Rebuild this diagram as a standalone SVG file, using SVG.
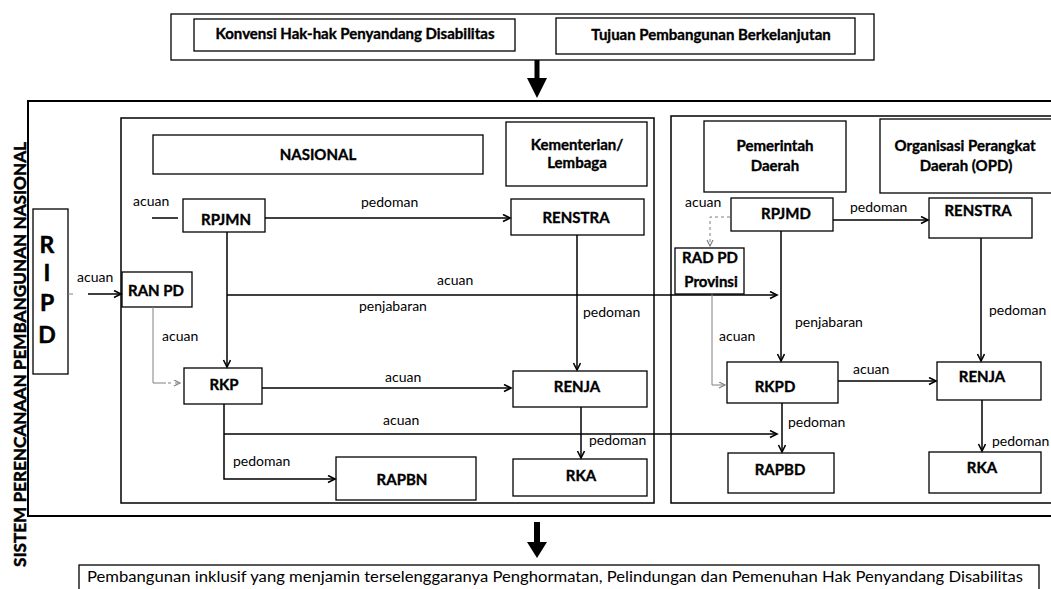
<svg xmlns="http://www.w3.org/2000/svg" width="1051" height="589" viewBox="0 0 1051 589">
<style>
.bx{fill:#fff;stroke:#000;stroke-width:1.3}
.fr{fill:none;stroke:#000;stroke-width:1.5}
.t{font-family:Lato,"Liberation Sans",sans-serif;fill:#000}
.n{font-weight:bold;font-size:15px;text-anchor:middle;stroke:#000;stroke-width:0.35}
.b{font-weight:bold;stroke:#000;stroke-width:0.5}
.l{font-size:14px}
.c{fill:none;stroke:#000;stroke-width:1.5}
.g{fill:none;stroke:#808080;stroke-width:1}
</style>
<defs>
<marker id="ah" markerUnits="userSpaceOnUse" markerWidth="10" markerHeight="10" refX="8" refY="4" orient="auto">
<path d="M1,0.5 L8,4 L1,7.5" fill="none" stroke="#000" stroke-width="1.6"/>
</marker>
<marker id="ahg" markerUnits="userSpaceOnUse" markerWidth="10" markerHeight="10" refX="7" refY="3.5" orient="auto">
<path d="M1,0.5 L7,3.5 L1,6.5" fill="none" stroke="#808080" stroke-width="1.2"/>
</marker>
</defs>

<!-- frames -->
<g id="frames">
<rect x="28" y="101" width="1040" height="415" fill="none" stroke="#000" stroke-width="2"/>
<rect class="fr" x="121" y="118" width="533" height="385"/>
<rect class="fr" x="671" y="116" width="400" height="387"/>
</g>

<g id="sistem-label">
<text class="t b" font-size="17" text-anchor="middle" transform="translate(26,354.5) rotate(-90)" textLength="425" lengthAdjust="spacingAndGlyphs">SISTEM PERENCANAAN PEMBANGUNAN NASIONAL</text>
</g>

<g id="top-sources">
<rect class="bx" x="171" y="14" width="703" height="46"/>
<g id="konvensi"><rect class="bx" x="194" y="19" width="321" height="32"/>
<text class="t n" x="355" y="39">Konvensi Hak-hak Penyandang Disabilitas</text></g>
<g id="tujuan"><rect class="bx" x="556" y="18" width="299" height="36"/>
<text class="t n" x="711" y="40">Tujuan Pembangunan Berkelanjutan</text></g>
</g>

<g id="ripd"><rect class="bx" x="33" y="209" width="35" height="165"/>
<text class="t b" font-size="23" text-anchor="middle" x="47" y="253">R</text>
<text class="t b" font-size="23" text-anchor="middle" x="47" y="281">I</text>
<text class="t b" font-size="23" text-anchor="middle" x="47" y="311">P</text>
<text class="t b" font-size="23" text-anchor="middle" x="47" y="343">D</text></g>

<g id="nasional"><rect class="bx" x="153" y="135" width="330" height="39"/>
<text class="t n" x="318" y="160">NASIONAL</text></g>
<g id="kl"><rect class="bx" x="506" y="122" width="141" height="64"/>
<text class="t n" x="577" y="150">Kementerian/</text><text class="t n" x="577" y="168">Lembaga</text></g>

<g id="rpjmn"><rect class="bx" x="183" y="199" width="82" height="33"/><text class="t n" x="226" y="225">RPJMN</text></g>
<g id="renstra-kl"><rect class="bx" x="511" y="199" width="133" height="36"/><text class="t n" x="576" y="223">RENSTRA</text></g>
<g id="ranpd"><rect class="bx" x="122" y="272" width="70" height="35"/><text class="t n" x="156" y="296">RAN PD</text></g>
<g id="rkp"><rect class="bx" x="184" y="368" width="78" height="36"/><text class="t n" x="224" y="390">RKP</text></g>
<g id="renja-kl"><rect class="bx" x="513" y="371" width="134" height="36"/><text class="t n" x="577" y="392">RENJA</text></g>
<g id="rapbn"><rect class="bx" x="336" y="457" width="140" height="43"/><text class="t n" x="402" y="485">RAPBN</text></g>
<g id="rka-kl"><rect class="bx" x="513" y="459" width="134" height="37"/><text class="t n" x="581" y="481">RKA</text></g>

<g id="pemda"><rect class="bx" x="704" y="121" width="142" height="71"/>
<text class="t n" x="775" y="151">Pemerintah</text><text class="t n" x="775" y="171">Daerah</text></g>
<g id="opd"><rect class="bx" x="880" y="119" width="190" height="74"/>
<text class="t n" x="965" y="151">Organisasi Perangkat</text><text class="t n" x="966" y="171">Daerah (OPD)</text></g>
<g id="rpjmd"><rect class="bx" x="731" y="198" width="102" height="33"/><text class="t n" x="786" y="219">RPJMD</text></g>
<g id="renstra-opd"><rect class="bx" x="929" y="198" width="103" height="40"/><text class="t n" x="978" y="216">RENSTRA</text></g>
<g id="radpd"><rect class="bx" x="675" y="248" width="69" height="46"/>
<text class="t n" x="710" y="263">RAD PD</text><text class="t n" x="711" y="287">Provinsi</text></g>
<g id="rkpd"><rect class="bx" x="727" y="362" width="111" height="41"/><text class="t n" x="775" y="392">RKPD</text></g>
<g id="renja-opd"><rect class="bx" x="937" y="362" width="104" height="38"/><text class="t n" x="982" y="382">RENJA</text></g>
<g id="rapbd"><rect class="bx" x="728" y="453" width="106" height="40"/><text class="t n" x="780" y="475">RAPBD</text></g>
<g id="rka-opd"><rect class="bx" x="929" y="452" width="112" height="41"/><text class="t n" x="982" y="473">RKA</text></g>

<g id="hasil"><rect class="bx" x="79" y="565" width="960" height="40"/>
<text class="t" font-size="15" x="87" y="582" textLength="936" lengthAdjust="spacingAndGlyphs">Pembangunan inklusif yang menjamin terselenggaranya Penghormatan, Pelindungan dan Pemenuhan Hak Penyandang Disabilitas</text></g>

<g id="connectors">
<!-- block arrows -->
<path d="M534.5,60 H539.5 V78 H547 L537,98 L527,78 H534.5 Z" fill="#000"/>
<path d="M534,522 H540 V542 H547 L537,558 L527,542 H534 Z" fill="#000"/>
<!-- national -->
<line class="c" x1="152" y1="218" x2="178" y2="218"/>
<line class="g" x1="68" y1="294" x2="73" y2="294"/>
<line class="c" x1="88" y1="294" x2="121" y2="294" marker-end="url(#ah)"/>
<polyline class="g" points="153,307 153,383 166,383"/>
<line class="g" x1="168" y1="383" x2="180" y2="383" stroke-dasharray="3 4" marker-end="url(#ahg)"/>
<line class="c" x1="265" y1="218" x2="510" y2="218" marker-end="url(#ah)"/>
<line class="c" x1="227" y1="232" x2="227" y2="367" stroke-width="2" marker-end="url(#ah)"/>
<line class="c" x1="227" y1="295" x2="777" y2="295" marker-end="url(#ah)"/>
<line class="c" x1="577" y1="235" x2="577" y2="370" marker-end="url(#ah)"/>
<line class="c" x1="262" y1="388" x2="511" y2="388" marker-end="url(#ah)"/>
<polyline class="c" points="224,404 224,479 335,479" marker-end="url(#ah)"/>
<line class="c" x1="224" y1="434" x2="777" y2="434" marker-end="url(#ah)"/>
<line class="c" x1="581" y1="407" x2="581" y2="458" marker-end="url(#ah)"/>
<!-- regional -->
<polyline class="g" points="730,217 710,217 710,246" stroke-dasharray="3 3" marker-end="url(#ahg)"/>
<line class="c" x1="833" y1="220" x2="928" y2="220" marker-end="url(#ah)"/>
<line class="c" x1="781" y1="231" x2="781" y2="361" marker-end="url(#ah)"/>
<polyline class="g" points="712,294 712,385 725,385" marker-end="url(#ahg)"/>
<line class="c" x1="981" y1="238" x2="981" y2="361" marker-end="url(#ah)"/>
<line class="c" x1="838" y1="381" x2="936" y2="381" marker-end="url(#ah)"/>
<line class="c" x1="782" y1="403" x2="782" y2="452" marker-end="url(#ah)"/>
<line class="c" x1="982" y1="400" x2="982" y2="451" marker-end="url(#ah)"/>
</g>

<g id="connector-labels">
<text class="t l" x="133" y="206">acuan</text>
<text class="t l" x="77" y="282">acuan</text>
<text class="t l" x="162" y="341">acuan</text>
<text class="t l" x="361" y="207">pedoman</text>
<text class="t l" x="437" y="285">acuan</text>
<text class="t l" x="359" y="311">penjabaran</text>
<text class="t l" x="583" y="317">pedoman</text>
<text class="t l" x="385" y="382">acuan</text>
<text class="t l" x="383" y="425">acuan</text>
<text class="t l" x="589" y="445">pedoman</text>
<text class="t l" x="233" y="466">pedoman</text>
<text class="t l" x="685" y="207">acuan</text>
<text class="t l" x="850" y="212">pedoman</text>
<text class="t l" x="795" y="327">penjabaran</text>
<text class="t l" x="719" y="341">acuan</text>
<text class="t l" x="989" y="315">pedoman</text>
<text class="t l" x="853" y="374">acuan</text>
<text class="t l" x="788" y="427">pedoman</text>
<text class="t l" x="992" y="446">pedoman</text>
</g>
</svg>
